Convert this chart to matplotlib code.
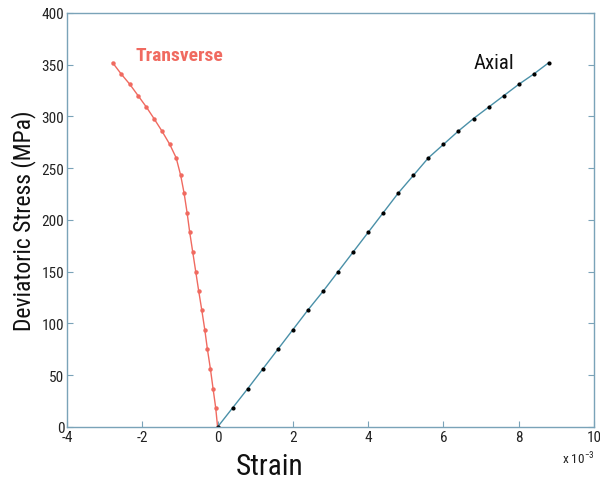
import matplotlib
matplotlib.use("Agg")
import matplotlib.pyplot as plt

FAM = "Roboto Condensed"
plt.rcParams["font.family"] = [FAM, "DejaVu Sans"]
plt.rcParams["mathtext.fontset"] = "custom"
plt.rcParams["mathtext.rm"] = FAM
plt.rcParams["mathtext.it"] = FAM
plt.rcParams["mathtext.bf"] = FAM
plt.rcParams["axes.unicode_minus"] = False

# Data (strain in units of 1e-3, stress in MPa)
stress = [0, 18.5, 37, 56, 75, 94, 113, 131, 150, 169, 188, 207, 226, 243,
          260, 273, 286, 298, 309, 320, 331, 341, 352]
axial_strain = [0, 0.4, 0.8, 1.2, 1.6, 2.0, 2.4, 2.8, 3.2, 3.6, 4.0, 4.4, 4.8,
                5.2, 5.6, 6.0, 6.4, 6.8, 7.2, 7.6, 8.0, 8.4, 8.8]
transverse_strain = [0, -0.05, -0.12, -0.19, -0.27, -0.34, -0.42, -0.50, -0.58,
                     -0.66, -0.74, -0.81, -0.89, -0.98, -1.10, -1.27, -1.48,
                     -1.69, -1.89, -2.11, -2.33, -2.56, -2.79]
xticks = [-4, -2, 0, 2, 4, 6, 8, 10]
yticks = [0, 50, 100, 150, 200, 250, 300, 350, 400]

fig = plt.figure(figsize=(6.0, 4.81), dpi=100)
ax = fig.add_axes([0.1117, 0.1102, 0.99 - 0.1117, 0.971 - 0.1102])

red = "#f06a60"
teal = "#4a90a8"
spine = "#7aa3b8"

ax.plot(transverse_strain, stress, color=red, lw=1.0, marker="o", ms=2.2,
        mfc=red, mec=red)
ax.plot(axial_strain, stress, color=teal, lw=1.0, marker="o", ms=2.0,
        mfc="black", mec="black")

ax.set_xlim(-4, 10)
ax.set_ylim(0, 400)
ax.set_xticks(xticks)
ax.set_yticks(yticks)
ax.tick_params(direction="in", length=4, colors=spine, labelcolor="#222222",
               labelsize=11, top=False, right=True, pad=2)
for s in ax.spines.values():
    s.set_color(spine)
    s.set_linewidth(1.0)

ax.set_xlabel("Strain", fontsize=21, color="#111111")
ax.xaxis.set_label_coords(0.385, -0.06, transform=ax.transAxes)
ax.xaxis.label.set_va("top")
ax.set_ylabel("Deviatoric Stress (MPa)", fontsize=17, color="#111111", labelpad=4)

ax.text(-2.18, 359, "Transverse", color=red, fontsize=14, fontweight="bold",
        ha="left", va="center")
ax.text(6.8, 352, "Axial", color="#111111", fontsize=15, ha="left", va="center")

fig.text(0.937, 0.028, r"x 10$^{-3}$", fontsize=9.5, color="#222222", ha="left",
         va="bottom")

fig.savefig("out.png", dpi=100)
